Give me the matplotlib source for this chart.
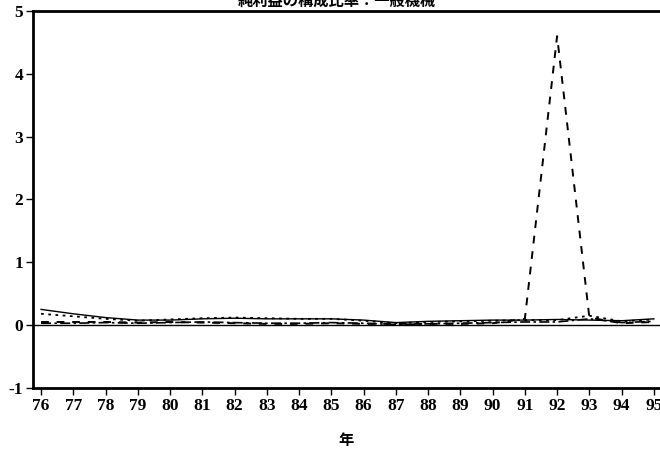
import matplotlib
matplotlib.use("Agg")
import matplotlib.pyplot as plt

plt.rcParams["axes.unicode_minus"] = False

years = list(range(76, 96))
year_labels = [str(y) for y in years]

# 構成比率（系列ごと）
solid_series = [0.25, 0.18, 0.12, 0.08, 0.08, 0.10, 0.11, 0.10, 0.10, 0.10,
                0.08, 0.04, 0.06, 0.07, 0.08, 0.08, 0.09, 0.08, 0.07, 0.10]
dotted_series = [0.18, 0.14, 0.10, 0.07, 0.09, 0.11, 0.12, 0.11, 0.10, 0.10,
                 0.07, 0.03, 0.05, 0.06, 0.07, 0.08, 0.08, 0.15, 0.06, 0.09]
dashed_series = [0.05, 0.05, 0.05, 0.04, 0.05, 0.04, 0.03, 0.02, 0.02, 0.03,
                 0.02, 0.02, 0.02, 0.02, 0.03, 0.10, 4.60, 0.12, 0.03, 0.05]
dashdot_series = [0.03, 0.03, 0.04, 0.03, 0.04, 0.05, 0.04, 0.03, 0.03, 0.04,
                  0.03, 0.01, 0.02, 0.03, 0.04, 0.05, 0.05, 0.10, 0.04, 0.06]

y_ticks = [-1, 0, 1, 2, 3, 4, 5]

fig = plt.figure(figsize=(6.6, 4.49), dpi=100)
ax = fig.add_axes([0.05, 0.136, 0.95, 0.8395])

ax.plot(years, solid_series, color="black", lw=1.0, ls="-")
ax.plot(years, dotted_series, color="black", lw=1.3, ls=(0, (1.5, 2.5)))
ax.plot(years, dashed_series, color="black", lw=1.4, ls=(0, (4, 4)))
ax.plot(years, dashdot_series, color="black", lw=1.2, ls=(0, (6, 2, 1.5, 2)))
ax.axhline(0, color="black", lw=1.0)

ax.set_xlim(75.75, 95.19)
ax.set_ylim(-1, 5)
ax.set_xticks(years)
ax.set_xticklabels(year_labels)
ax.set_yticks(y_ticks)

for lab in ax.get_xticklabels() + ax.get_yticklabels():
    lab.set_fontfamily("Liberation Serif")
    lab.set_fontweight("bold")
    lab.set_fontsize(12.5)

ax.tick_params(axis="both", direction="out", length=5, width=1.0, colors="black")
ax.tick_params(axis="x", pad=2)
ax.tick_params(axis="y", pad=2)

for side in ["left", "bottom", "top"]:
    ax.spines[side].set_linewidth(2.0)
ax.spines["right"].set_visible(False)

ax.set_xlabel("年", family=["Noto Sans CJK JP", "DejaVu Sans"],
              fontweight="bold", fontsize=11, labelpad=13)

fig.text(0.51, 0.998, "純利益の構成比率：一般機械",
         family=["Noto Sans CJK JP", "DejaVu Sans"], fontweight="bold",
         fontsize=11, ha="center", va="center")

fig.savefig("out.png", dpi=100)
